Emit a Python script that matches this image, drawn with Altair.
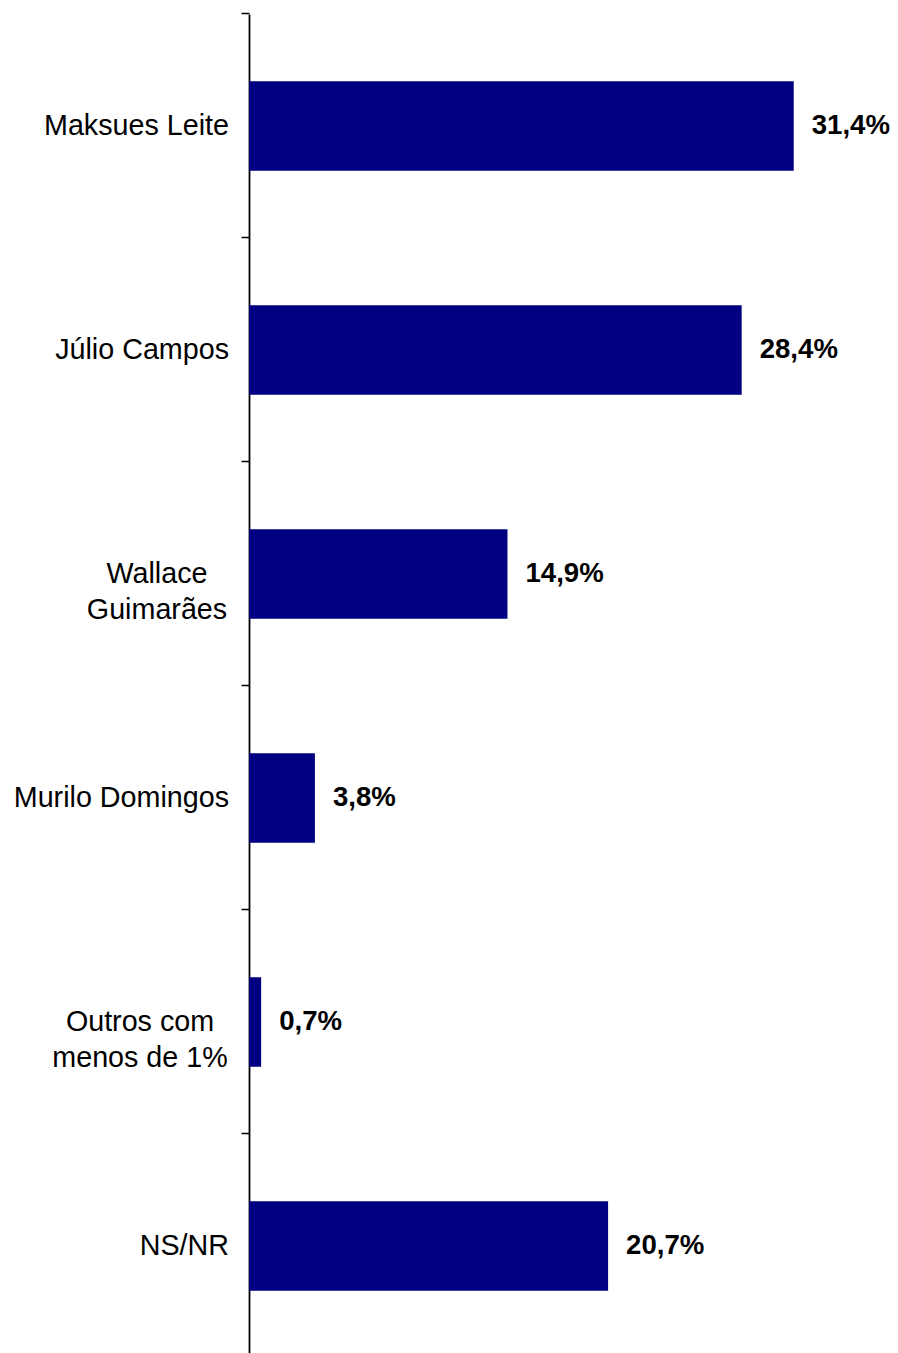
import altair as alt
import pandas as pd

# ---- data ----
categories = ["Maksues Leite", "Júlio Campos", "Wallace\nGuimarães",
              "Murilo Domingos", "Outros com\nmenos de 1%", "NS/NR"]
values = [31.4, 28.4, 14.9, 3.8, 0.7, 20.7]

df = pd.DataFrame({
    "cat": categories,
    "value": values,
    "label": [f"{v:.1f}%".replace(".", ",") for v in values],
})

# ---- layout / style ----
FONT = "Liberation Sans"
BAR_COLOR = "#000080"
W, H = 641, 1344
multi_center = {"Wallace\nGuimarães": -92, "Outros com\nmenos de 1%": -109}

yenc = alt.Y(
    "cat:N", sort=categories, title=None,
    scale=alt.Scale(paddingInner=0.6, paddingOuter=0.3),
    axis=alt.Axis(labels=False, bandPosition=-0.75, tickSize=8,
                  tickColor="black", domainColor="black",
                  tickWidth=1.5, domainWidth=1.8, grid=False),
)
xscale = alt.Scale(domain=[0, 36.95])

base = alt.Chart(df)

bars = base.mark_bar(color=BAR_COLOR).encode(
    y=yenc,
    x=alt.X("value:Q", scale=xscale, axis=None),
)

vals = base.mark_text(align="left", baseline="middle", dx=18, fontSize=27.6,
                      fontWeight="bold", font=FONT, color="black").encode(
    y=yenc,
    x=alt.X("value:Q", scale=xscale, axis=None),
    text="label:N",
)

single = base.transform_filter(
    alt.FieldOneOfPredicate(field="cat", oneOf=[c for c in categories if "\n" not in c])
).mark_text(align="right", baseline="middle", fontSize=28.7, font=FONT,
            color="black").encode(
    y=yenc,
    x=alt.value(-20),
    text="cat:N",
)

layers = [bars, vals, single]
for name, cx in multi_center.items():
    layers.append(
        base.transform_filter(alt.FieldEqualPredicate(field="cat", equal=name))
        .mark_text(align="center", baseline="middle", fontSize=28.7, font=FONT,
                   color="black", lineBreak="\n", lineHeight=36)
        .encode(y=yenc, x=alt.value(cx), text="cat:N")
    )

chart = alt.layer(*layers).properties(
    width=W, height=H,
    padding={"left": 241, "top": 6, "right": 0, "bottom": 0},
    autosize=alt.AutoSizeParams(type="none"),
    background="white",
).configure_view(stroke=None)

chart.save("out.html", embed_options={"renderer": "svg", "actions": False})
